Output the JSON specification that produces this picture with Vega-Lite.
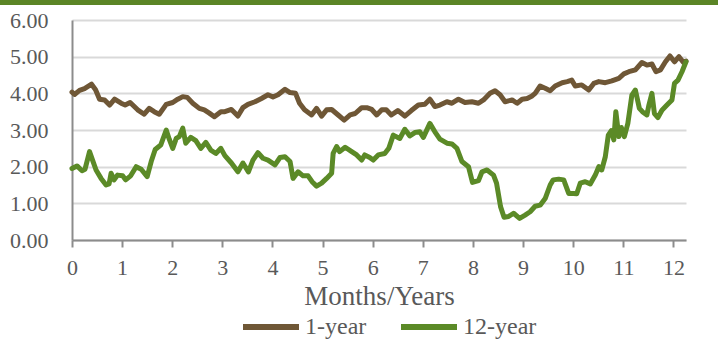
{
  "$schema": "https://vega.github.io/schema/vega-lite/v6.json",
  "width": 614,
  "height": 220,
  "autosize": {"type": "none"},
  "padding": {"left": 72, "top": 20, "right": 32, "bottom": 118},
  "background": "white",
  "config": {
    "font": "Liberation Serif",
    "view": {"stroke": null},
    "axis": {"labelColor": "#595959", "titleColor": "#595959", "labelFont": "Liberation Serif", "titleFont": "Liberation Serif", "titleFontWeight": "normal"},
    "axisX": {
      "grid": false, "labelFontSize": 22, "titleFontSize": 27, "labelPadding": 10, "titlePadding": 5,
      "tickSize": 7, "tickWidth": 2, "tickColor": "#8c8c8c", "domainColor": "#8c8c8c", "domainWidth": 2,
      "labelFlush": false, "labelOverlap": false
    },
    "axisY": {
      "labelFontSize": 22, "labelPadding": 24, "ticks": false, "labelOverlap": false,
      "grid": true, "gridColor": "#d9d9d9", "gridWidth": 2,
      "domainColor": "#8c8c8c", "domainWidth": 2
    },
    "legend": {"labelFont": "Liberation Serif", "labelColor": "#595959"}
  },
  "layer": [
    {
      "data": {"values": [
        {"t": 0, "v": 4.03, "s": "1-year"},
        {"t": 0.05, "v": 3.97, "s": "1-year"},
        {"t": 0.15, "v": 4.08, "s": "1-year"},
        {"t": 0.25, "v": 4.13, "s": "1-year"},
        {"t": 0.39, "v": 4.25, "s": "1-year"},
        {"t": 0.47, "v": 4.1, "s": "1-year"},
        {"t": 0.55, "v": 3.84, "s": "1-year"},
        {"t": 0.65, "v": 3.82, "s": "1-year"},
        {"t": 0.75, "v": 3.68, "s": "1-year"},
        {"t": 0.85, "v": 3.84, "s": "1-year"},
        {"t": 0.98, "v": 3.73, "s": "1-year"},
        {"t": 1.06, "v": 3.68, "s": "1-year"},
        {"t": 1.16, "v": 3.75, "s": "1-year"},
        {"t": 1.31, "v": 3.55, "s": "1-year"},
        {"t": 1.44, "v": 3.43, "s": "1-year"},
        {"t": 1.54, "v": 3.59, "s": "1-year"},
        {"t": 1.64, "v": 3.5, "s": "1-year"},
        {"t": 1.74, "v": 3.43, "s": "1-year"},
        {"t": 1.88, "v": 3.7, "s": "1-year"},
        {"t": 2.01, "v": 3.75, "s": "1-year"},
        {"t": 2.11, "v": 3.84, "s": "1-year"},
        {"t": 2.21, "v": 3.91, "s": "1-year"},
        {"t": 2.3, "v": 3.89, "s": "1-year"},
        {"t": 2.41, "v": 3.73, "s": "1-year"},
        {"t": 2.54, "v": 3.59, "s": "1-year"},
        {"t": 2.64, "v": 3.55, "s": "1-year"},
        {"t": 2.74, "v": 3.46, "s": "1-year"},
        {"t": 2.84, "v": 3.36, "s": "1-year"},
        {"t": 2.97, "v": 3.5, "s": "1-year"},
        {"t": 3.05, "v": 3.5, "s": "1-year"},
        {"t": 3.18, "v": 3.56, "s": "1-year"},
        {"t": 3.31, "v": 3.38, "s": "1-year"},
        {"t": 3.41, "v": 3.61, "s": "1-year"},
        {"t": 3.51, "v": 3.7, "s": "1-year"},
        {"t": 3.65, "v": 3.77, "s": "1-year"},
        {"t": 3.78, "v": 3.86, "s": "1-year"},
        {"t": 3.91, "v": 3.96, "s": "1-year"},
        {"t": 4.01, "v": 3.9, "s": "1-year"},
        {"t": 4.11, "v": 3.96, "s": "1-year"},
        {"t": 4.25, "v": 4.11, "s": "1-year"},
        {"t": 4.35, "v": 4.02, "s": "1-year"},
        {"t": 4.46, "v": 4.0, "s": "1-year"},
        {"t": 4.54, "v": 3.73, "s": "1-year"},
        {"t": 4.64, "v": 3.55, "s": "1-year"},
        {"t": 4.78, "v": 3.41, "s": "1-year"},
        {"t": 4.88, "v": 3.59, "s": "1-year"},
        {"t": 4.98, "v": 3.38, "s": "1-year"},
        {"t": 5.08, "v": 3.55, "s": "1-year"},
        {"t": 5.18, "v": 3.56, "s": "1-year"},
        {"t": 5.31, "v": 3.41, "s": "1-year"},
        {"t": 5.43, "v": 3.27, "s": "1-year"},
        {"t": 5.55, "v": 3.41, "s": "1-year"},
        {"t": 5.65, "v": 3.45, "s": "1-year"},
        {"t": 5.78, "v": 3.61, "s": "1-year"},
        {"t": 5.88, "v": 3.61, "s": "1-year"},
        {"t": 5.98, "v": 3.56, "s": "1-year"},
        {"t": 6.08, "v": 3.41, "s": "1-year"},
        {"t": 6.18, "v": 3.55, "s": "1-year"},
        {"t": 6.27, "v": 3.55, "s": "1-year"},
        {"t": 6.37, "v": 3.41, "s": "1-year"},
        {"t": 6.5, "v": 3.53, "s": "1-year"},
        {"t": 6.64, "v": 3.38, "s": "1-year"},
        {"t": 6.77, "v": 3.53, "s": "1-year"},
        {"t": 6.91, "v": 3.68, "s": "1-year"},
        {"t": 7.04, "v": 3.7, "s": "1-year"},
        {"t": 7.14, "v": 3.84, "s": "1-year"},
        {"t": 7.24, "v": 3.64, "s": "1-year"},
        {"t": 7.34, "v": 3.68, "s": "1-year"},
        {"t": 7.48, "v": 3.77, "s": "1-year"},
        {"t": 7.58, "v": 3.73, "s": "1-year"},
        {"t": 7.71, "v": 3.84, "s": "1-year"},
        {"t": 7.84, "v": 3.75, "s": "1-year"},
        {"t": 7.98, "v": 3.77, "s": "1-year"},
        {"t": 8.11, "v": 3.73, "s": "1-year"},
        {"t": 8.21, "v": 3.82, "s": "1-year"},
        {"t": 8.34, "v": 4.0, "s": "1-year"},
        {"t": 8.44, "v": 4.07, "s": "1-year"},
        {"t": 8.54, "v": 3.96, "s": "1-year"},
        {"t": 8.64, "v": 3.77, "s": "1-year"},
        {"t": 8.78, "v": 3.82, "s": "1-year"},
        {"t": 8.88, "v": 3.73, "s": "1-year"},
        {"t": 8.98, "v": 3.84, "s": "1-year"},
        {"t": 9.08, "v": 3.86, "s": "1-year"},
        {"t": 9.18, "v": 3.93, "s": "1-year"},
        {"t": 9.24, "v": 4.0, "s": "1-year"},
        {"t": 9.34, "v": 4.2, "s": "1-year"},
        {"t": 9.44, "v": 4.14, "s": "1-year"},
        {"t": 9.54, "v": 4.07, "s": "1-year"},
        {"t": 9.64, "v": 4.2, "s": "1-year"},
        {"t": 9.78, "v": 4.29, "s": "1-year"},
        {"t": 9.88, "v": 4.32, "s": "1-year"},
        {"t": 9.97, "v": 4.36, "s": "1-year"},
        {"t": 10.04, "v": 4.2, "s": "1-year"},
        {"t": 10.17, "v": 4.23, "s": "1-year"},
        {"t": 10.31, "v": 4.09, "s": "1-year"},
        {"t": 10.41, "v": 4.27, "s": "1-year"},
        {"t": 10.51, "v": 4.32, "s": "1-year"},
        {"t": 10.64, "v": 4.29, "s": "1-year"},
        {"t": 10.77, "v": 4.34, "s": "1-year"},
        {"t": 10.91, "v": 4.41, "s": "1-year"},
        {"t": 11.01, "v": 4.53, "s": "1-year"},
        {"t": 11.11, "v": 4.59, "s": "1-year"},
        {"t": 11.24, "v": 4.64, "s": "1-year"},
        {"t": 11.37, "v": 4.84, "s": "1-year"},
        {"t": 11.47, "v": 4.77, "s": "1-year"},
        {"t": 11.57, "v": 4.8, "s": "1-year"},
        {"t": 11.65, "v": 4.59, "s": "1-year"},
        {"t": 11.74, "v": 4.64, "s": "1-year"},
        {"t": 11.84, "v": 4.86, "s": "1-year"},
        {"t": 11.93, "v": 5.02, "s": "1-year"},
        {"t": 12.02, "v": 4.86, "s": "1-year"},
        {"t": 12.11, "v": 5.0, "s": "1-year"},
        {"t": 12.2, "v": 4.84, "s": "1-year"},
        {"t": 12.25, "v": 4.88, "s": "1-year"},
        {"t": 0, "v": 1.95, "s": "12-year"},
        {"t": 0.1, "v": 2.02, "s": "12-year"},
        {"t": 0.2, "v": 1.89, "s": "12-year"},
        {"t": 0.26, "v": 1.93, "s": "12-year"},
        {"t": 0.35, "v": 2.41, "s": "12-year"},
        {"t": 0.41, "v": 2.18, "s": "12-year"},
        {"t": 0.48, "v": 1.91, "s": "12-year"},
        {"t": 0.58, "v": 1.68, "s": "12-year"},
        {"t": 0.68, "v": 1.5, "s": "12-year"},
        {"t": 0.74, "v": 1.53, "s": "12-year"},
        {"t": 0.78, "v": 1.82, "s": "12-year"},
        {"t": 0.84, "v": 1.64, "s": "12-year"},
        {"t": 0.91, "v": 1.77, "s": "12-year"},
        {"t": 1.01, "v": 1.75, "s": "12-year"},
        {"t": 1.07, "v": 1.64, "s": "12-year"},
        {"t": 1.17, "v": 1.75, "s": "12-year"},
        {"t": 1.28, "v": 2.0, "s": "12-year"},
        {"t": 1.38, "v": 1.93, "s": "12-year"},
        {"t": 1.5, "v": 1.73, "s": "12-year"},
        {"t": 1.58, "v": 2.14, "s": "12-year"},
        {"t": 1.66, "v": 2.47, "s": "12-year"},
        {"t": 1.77, "v": 2.59, "s": "12-year"},
        {"t": 1.88, "v": 3.0, "s": "12-year"},
        {"t": 1.94, "v": 2.75, "s": "12-year"},
        {"t": 2.01, "v": 2.5, "s": "12-year"},
        {"t": 2.08, "v": 2.77, "s": "12-year"},
        {"t": 2.14, "v": 2.82, "s": "12-year"},
        {"t": 2.21, "v": 3.05, "s": "12-year"},
        {"t": 2.27, "v": 2.64, "s": "12-year"},
        {"t": 2.37, "v": 2.8, "s": "12-year"},
        {"t": 2.47, "v": 2.71, "s": "12-year"},
        {"t": 2.57, "v": 2.5, "s": "12-year"},
        {"t": 2.67, "v": 2.66, "s": "12-year"},
        {"t": 2.77, "v": 2.45, "s": "12-year"},
        {"t": 2.87, "v": 2.36, "s": "12-year"},
        {"t": 2.97, "v": 2.5, "s": "12-year"},
        {"t": 3.05, "v": 2.3, "s": "12-year"},
        {"t": 3.18, "v": 2.1, "s": "12-year"},
        {"t": 3.31, "v": 1.86, "s": "12-year"},
        {"t": 3.41, "v": 2.1, "s": "12-year"},
        {"t": 3.52, "v": 1.86, "s": "12-year"},
        {"t": 3.61, "v": 2.18, "s": "12-year"},
        {"t": 3.71, "v": 2.38, "s": "12-year"},
        {"t": 3.81, "v": 2.23, "s": "12-year"},
        {"t": 3.91, "v": 2.18, "s": "12-year"},
        {"t": 4.05, "v": 2.05, "s": "12-year"},
        {"t": 4.15, "v": 2.25, "s": "12-year"},
        {"t": 4.25, "v": 2.27, "s": "12-year"},
        {"t": 4.35, "v": 2.14, "s": "12-year"},
        {"t": 4.41, "v": 1.68, "s": "12-year"},
        {"t": 4.51, "v": 1.86, "s": "12-year"},
        {"t": 4.61, "v": 1.75, "s": "12-year"},
        {"t": 4.71, "v": 1.75, "s": "12-year"},
        {"t": 4.79, "v": 1.59, "s": "12-year"},
        {"t": 4.88, "v": 1.47, "s": "12-year"},
        {"t": 4.98, "v": 1.55, "s": "12-year"},
        {"t": 5.08, "v": 1.68, "s": "12-year"},
        {"t": 5.18, "v": 1.82, "s": "12-year"},
        {"t": 5.21, "v": 2.36, "s": "12-year"},
        {"t": 5.28, "v": 2.55, "s": "12-year"},
        {"t": 5.34, "v": 2.41, "s": "12-year"},
        {"t": 5.45, "v": 2.53, "s": "12-year"},
        {"t": 5.58, "v": 2.41, "s": "12-year"},
        {"t": 5.68, "v": 2.32, "s": "12-year"},
        {"t": 5.78, "v": 2.18, "s": "12-year"},
        {"t": 5.84, "v": 2.32, "s": "12-year"},
        {"t": 5.94, "v": 2.25, "s": "12-year"},
        {"t": 6.01, "v": 2.18, "s": "12-year"},
        {"t": 6.11, "v": 2.32, "s": "12-year"},
        {"t": 6.24, "v": 2.36, "s": "12-year"},
        {"t": 6.32, "v": 2.5, "s": "12-year"},
        {"t": 6.41, "v": 2.86, "s": "12-year"},
        {"t": 6.54, "v": 2.77, "s": "12-year"},
        {"t": 6.64, "v": 3.02, "s": "12-year"},
        {"t": 6.74, "v": 2.84, "s": "12-year"},
        {"t": 6.84, "v": 2.93, "s": "12-year"},
        {"t": 6.94, "v": 2.95, "s": "12-year"},
        {"t": 7.01, "v": 2.8, "s": "12-year"},
        {"t": 7.14, "v": 3.18, "s": "12-year"},
        {"t": 7.24, "v": 2.95, "s": "12-year"},
        {"t": 7.34, "v": 2.75, "s": "12-year"},
        {"t": 7.48, "v": 2.64, "s": "12-year"},
        {"t": 7.58, "v": 2.62, "s": "12-year"},
        {"t": 7.68, "v": 2.5, "s": "12-year"},
        {"t": 7.78, "v": 2.14, "s": "12-year"},
        {"t": 7.91, "v": 2.0, "s": "12-year"},
        {"t": 7.99, "v": 1.57, "s": "12-year"},
        {"t": 8.11, "v": 1.62, "s": "12-year"},
        {"t": 8.18, "v": 1.86, "s": "12-year"},
        {"t": 8.28, "v": 1.91, "s": "12-year"},
        {"t": 8.41, "v": 1.77, "s": "12-year"},
        {"t": 8.47, "v": 1.55, "s": "12-year"},
        {"t": 8.55, "v": 0.91, "s": "12-year"},
        {"t": 8.62, "v": 0.62, "s": "12-year"},
        {"t": 8.71, "v": 0.64, "s": "12-year"},
        {"t": 8.81, "v": 0.73, "s": "12-year"},
        {"t": 8.93, "v": 0.59, "s": "12-year"},
        {"t": 9.04, "v": 0.68, "s": "12-year"},
        {"t": 9.14, "v": 0.77, "s": "12-year"},
        {"t": 9.24, "v": 0.92, "s": "12-year"},
        {"t": 9.34, "v": 0.95, "s": "12-year"},
        {"t": 9.44, "v": 1.13, "s": "12-year"},
        {"t": 9.54, "v": 1.5, "s": "12-year"},
        {"t": 9.6, "v": 1.64, "s": "12-year"},
        {"t": 9.71, "v": 1.66, "s": "12-year"},
        {"t": 9.81, "v": 1.64, "s": "12-year"},
        {"t": 9.91, "v": 1.27, "s": "12-year"},
        {"t": 10.01, "v": 1.27, "s": "12-year"},
        {"t": 10.07, "v": 1.26, "s": "12-year"},
        {"t": 10.14, "v": 1.55, "s": "12-year"},
        {"t": 10.24, "v": 1.59, "s": "12-year"},
        {"t": 10.34, "v": 1.53, "s": "12-year"},
        {"t": 10.44, "v": 1.77, "s": "12-year"},
        {"t": 10.51, "v": 2.0, "s": "12-year"},
        {"t": 10.57, "v": 1.91, "s": "12-year"},
        {"t": 10.64, "v": 2.27, "s": "12-year"},
        {"t": 10.7, "v": 2.86, "s": "12-year"},
        {"t": 10.76, "v": 2.98, "s": "12-year"},
        {"t": 10.81, "v": 2.73, "s": "12-year"},
        {"t": 10.85, "v": 3.5, "s": "12-year"},
        {"t": 10.91, "v": 2.82, "s": "12-year"},
        {"t": 10.96, "v": 3.07, "s": "12-year"},
        {"t": 11.02, "v": 2.82, "s": "12-year"},
        {"t": 11.09, "v": 3.18, "s": "12-year"},
        {"t": 11.17, "v": 3.95, "s": "12-year"},
        {"t": 11.24, "v": 4.09, "s": "12-year"},
        {"t": 11.32, "v": 3.59, "s": "12-year"},
        {"t": 11.38, "v": 3.5, "s": "12-year"},
        {"t": 11.47, "v": 3.41, "s": "12-year"},
        {"t": 11.51, "v": 3.68, "s": "12-year"},
        {"t": 11.57, "v": 4.0, "s": "12-year"},
        {"t": 11.62, "v": 3.45, "s": "12-year"},
        {"t": 11.69, "v": 3.34, "s": "12-year"},
        {"t": 11.77, "v": 3.54, "s": "12-year"},
        {"t": 11.87, "v": 3.68, "s": "12-year"},
        {"t": 11.97, "v": 3.82, "s": "12-year"},
        {"t": 12.02, "v": 4.27, "s": "12-year"},
        {"t": 12.09, "v": 4.36, "s": "12-year"},
        {"t": 12.17, "v": 4.59, "s": "12-year"},
        {"t": 12.25, "v": 4.86, "s": "12-year"}
      ]},
      "mark": {"type": "line", "strokeWidth": 5, "strokeCap": "round", "strokeJoin": "round"},
      "encoding": {
        "x": {
          "field": "t", "type": "quantitative",
          "scale": {"domain": [0, 12.25], "nice": false, "zero": false},
          "axis": {"title": "Months/Years", "values": [0,1,2,3,4,5,6,7,8,9,10,11,12]}
        },
        "y": {
          "field": "v", "type": "quantitative",
          "scale": {"domain": [0, 6], "nice": false},
          "axis": {"title": null, "values": [0,1,2,3,4,5,6], "format": ".2f"}
        },
        "color": {
          "field": "s", "type": "nominal",
          "scale": {"domain": ["1-year", "12-year"], "range": ["#6f5736", "#5b8a27"]},
          "legend": {
            "title": null, "orient": "none", "direction": "horizontal",
            "legendX": 168, "legendY": 276, "padding": 0,
            "symbolType": "stroke", "symbolSize": 3136, "symbolStrokeWidth": 6,
            "labelFontSize": 24, "labelOffset": 3, "columnPadding": 22
          }
        }
      }
    },
    {
      "data": {"values": [{}]},
      "mark": {"type": "rect", "color": "#5b8526", "clip": false},
      "encoding": {
        "x": {"datum": -1.5, "type": "quantitative", "axis": {"title": "Months/Years", "values": [0,1,2,3,4,5,6,7,8,9,10,11,12]}},
        "x2": {"datum": 13.2},
        "y": {"datum": 6.7, "type": "quantitative", "axis": {"title": null, "values": [0,1,2,3,4,5,6], "format": ".2f"}},
        "y2": {"datum": 6.41}
      }
    }
  ]
}
